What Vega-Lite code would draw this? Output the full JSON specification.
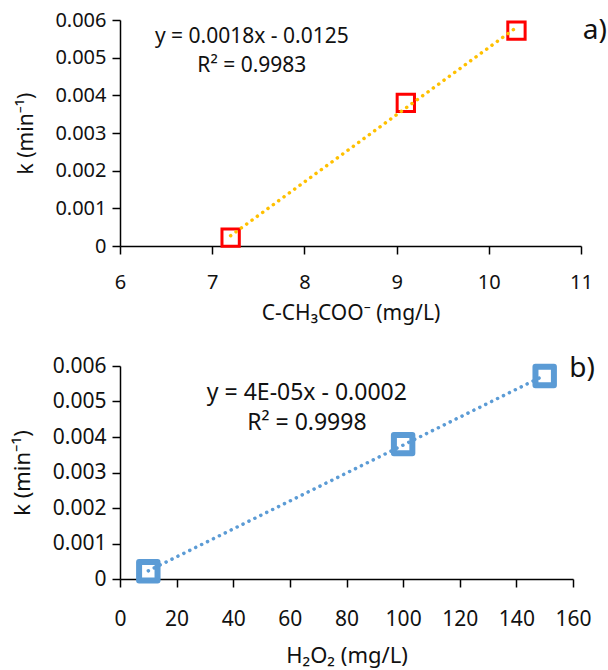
{
  "$schema": "https://vega.github.io/schema/vega-lite/v6.json",
  "background": "white",
  "padding": {"left": 11, "top": 10, "right": 0, "bottom": 5},
  "config": {
    "view": {"stroke": null},
    "font": "Noto Sans",
    "axis": {
      "grid": false,
      "domainColor": "#000",
      "tickColor": "#000",
      "domainWidth": 1.5,
      "tickWidth": 1.5,
      "tickSize": 8,
      "labelFlush": false,
      "labelColor": "#111",
      "titleColor": "#111",
      "labelFont": "Noto Sans",
      "titleFont": "Noto Sans",
      "titleFontWeight": "normal",
      "labelFontSize": 20,
      "titleFontSize": 21
    }
  },
  "bounds": "flush",
  "spacing": 120,
  "vconcat": [
    {
      "width": 461,
      "height": 226,
      "layer": [
        {"data": {"values": [
          {"c": 7.2, "k": 0.00022},
          {"c": 9.1, "k": 0.0038},
          {"c": 10.3, "k": 0.00572}
        ]},
         "encoding": {
          "x": {"field": "c", "type": "quantitative",
            "scale": {"domain": [6, 11], "nice": false, "zero": false},
            "axis": {"title": "C-CH₃COO⁻ (mg/L)", "values": [6, 7, 8, 9, 10, 11], "labelPadding": 18, "titlePadding": 10}},
          "y": {"field": "k", "type": "quantitative",
            "scale": {"domain": [0, 0.006], "nice": false},
            "axis": {"title": "k (min⁻¹)", "values": [0, 0.001, 0.002, 0.003, 0.004, 0.005, 0.006],
              "labelExpr": "datum.value == 0 ? '0' : format(datum.value, '.3f')", "labelPadding": 6, "titlePadding": 18}}
         },
         "layer": [
          {"mark": {"type": "point", "shape": "square", "filled": false, "color": "#FF0000", "strokeWidth": 3, "size": 300, "opacity": 1}},
          {"transform": [{"regression": "k", "on": "c"}],
           "mark": {"type": "line", "color": "#FFC000", "strokeWidth": 3.5, "strokeDash": [0.1, 6.5], "strokeCap": "round"}}
         ]},
        {"data": {"values": [
          {"label": "y = 0.0018x - 0.0125", "line": 1},
          {"label": "R² = 0.9983", "line": 2},
          {"label": "a)", "line": 3}
        ]},
         "encoding": {
          "x": {"datum": 7.43, "type": "quantitative",
            "scale": {"domain": [6, 11], "nice": false, "zero": false},
            "axis": {"title": "C-CH₃COO⁻ (mg/L)", "values": [6, 7, 8, 9, 10, 11], "labelPadding": 18, "titlePadding": 10}},
          "y": {"datum": 0.00555, "type": "quantitative",
            "scale": {"domain": [0, 0.006], "nice": false},
            "axis": {"title": "k (min⁻¹)", "values": [0, 0.001, 0.002, 0.003, 0.004, 0.005, 0.006],
              "labelExpr": "datum.value == 0 ? '0' : format(datum.value, '.3f')", "labelPadding": 6, "titlePadding": 18}}
         },
         "layer": [
          {"transform": [{"filter": "datum.line == 1"}],
           "mark": {"type": "text", "fontSize": 21, "align": "center", "baseline": "middle", "color": "#111"},
           "encoding": {"text": {"field": "label"}}},
          {"transform": [{"filter": "datum.line == 2"}],
           "mark": {"type": "text", "fontSize": 21, "align": "center", "baseline": "middle", "color": "#111"},
           "encoding": {"y": {"datum": 0.00478, "type": "quantitative"}, "text": {"field": "label"}}},
          {"transform": [{"filter": "datum.line == 3"}],
           "mark": {"type": "text", "fontSize": 28, "align": "center", "baseline": "middle", "color": "#111", "clip": false},
           "encoding": {"x": {"datum": 11.15, "type": "quantitative"}, "y": {"datum": 0.00571, "type": "quantitative"}, "text": {"field": "label"}}}
         ]}
      ]
    },
    {
      "width": 453,
      "height": 213,
      "layer": [
        {"data": {"values": [
          {"h": 10, "k": 0.00022},
          {"h": 100, "k": 0.0038},
          {"h": 150, "k": 0.00572}
        ]},
         "encoding": {
          "x": {"field": "h", "type": "quantitative",
            "scale": {"domain": [0, 160], "nice": false},
            "axis": {"title": "H₂O₂ (mg/L)", "values": [0, 20, 40, 60, 80, 100, 120, 140, 160], "labelPadding": 21, "titlePadding": 16, "labelFontSize": 21, "titleFontSize": 22}},
          "y": {"field": "k", "type": "quantitative",
            "scale": {"domain": [0, 0.006], "nice": false},
            "axis": {"title": "k (min⁻¹)", "values": [0, 0.001, 0.002, 0.003, 0.004, 0.005, 0.006],
              "labelExpr": "datum.value == 0 ? '0' : format(datum.value, '.3f')", "labelPadding": 6, "titlePadding": 18, "labelFontSize": 21, "titleFontSize": 22}}
         },
         "layer": [
          {"mark": {"type": "point", "shape": "square", "filled": false, "color": "#5B9BD5", "strokeWidth": 6, "size": 340, "strokeJoin": "round", "opacity": 1}},
          {"transform": [{"regression": "k", "on": "h"}],
           "mark": {"type": "line", "color": "#5B9BD5", "strokeWidth": 3.5, "strokeDash": [0.1, 6.5], "strokeCap": "round"}}
         ]},
        {"data": {"values": [
          {"label": "y = 4E-05x - 0.0002", "line": 1},
          {"label": "R² = 0.9998", "line": 2},
          {"label": "b)", "line": 3}
        ]},
         "encoding": {
          "x": {"datum": 66, "type": "quantitative",
            "scale": {"domain": [0, 160], "nice": false},
            "axis": {"title": "H₂O₂ (mg/L)", "values": [0, 20, 40, 60, 80, 100, 120, 140, 160], "labelPadding": 21, "titlePadding": 16, "labelFontSize": 21, "titleFontSize": 22}},
          "y": {"datum": 0.00524, "type": "quantitative",
            "scale": {"domain": [0, 0.006], "nice": false},
            "axis": {"title": "k (min⁻¹)", "values": [0, 0.001, 0.002, 0.003, 0.004, 0.005, 0.006],
              "labelExpr": "datum.value == 0 ? '0' : format(datum.value, '.3f')", "labelPadding": 6, "titlePadding": 18, "labelFontSize": 21, "titleFontSize": 22}}
         },
         "layer": [
          {"transform": [{"filter": "datum.line == 1"}],
           "mark": {"type": "text", "fontSize": 23, "align": "center", "baseline": "middle", "color": "#111"},
           "encoding": {"text": {"field": "label"}}},
          {"transform": [{"filter": "datum.line == 2"}],
           "mark": {"type": "text", "fontSize": 23, "align": "center", "baseline": "middle", "color": "#111"},
           "encoding": {"y": {"datum": 0.00439, "type": "quantitative"}, "text": {"field": "label"}}},
          {"transform": [{"filter": "datum.line == 3"}],
           "mark": {"type": "text", "fontSize": 28, "align": "center", "baseline": "middle", "color": "#111", "clip": false},
           "encoding": {"x": {"datum": 163.2, "type": "quantitative"}, "y": {"datum": 0.00592, "type": "quantitative"}, "text": {"field": "label"}}}
         ]}
      ]
    }
  ]
}
